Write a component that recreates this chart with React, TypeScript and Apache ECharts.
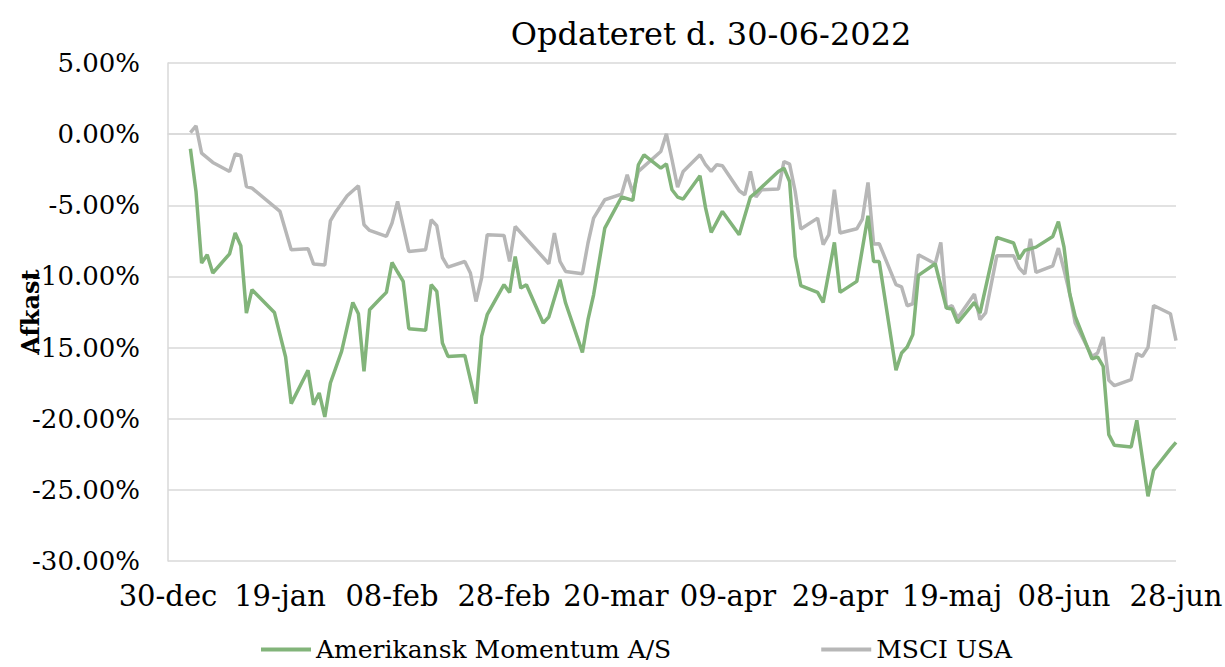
import React, { useEffect, useRef } from "react";
import * as echarts from "echarts";

const titleText = "Opdateret d. 30-06-2022";
const seriesNames = ["Amerikansk Momentum A/S", "MSCI USA"];
const xTickLabels = ["30-dec", "19-jan", "08-feb", "28-feb", "20-mar", "09-apr", "29-apr", "19-maj", "08-jun", "28-jun"];

// day offsets from 30-dec-2021 and returns in %
const momentumDays = [4, 5, 6, 7, 8, 11, 12, 13, 14, 15, 19, 21, 22, 25, 26, 27, 28, 29, 31, 33, 34, 35, 36, 38, 39, 40, 41, 42, 43, 46, 47, 48, 49, 50, 53, 55, 56, 57, 60, 61, 62, 63, 64, 67, 68, 70, 71, 74, 75, 76, 78, 81, 83, 84, 85, 88, 89, 90, 91, 92, 95, 96, 97, 99, 102, 104, 105, 109, 110, 111, 112, 113, 116, 117, 119, 120, 123, 125, 126, 127, 130, 131, 132, 133, 134, 137, 139, 140, 141, 144, 145, 148, 151, 152, 153, 155, 158, 159, 160, 161, 162, 165, 166, 167, 168, 169, 172, 173, 175, 176, 179, 180];
const momentumValues = [-1.03, -4.03, -9.06, -8.48, -9.76, -8.41, -6.95, -7.84, -12.57, -10.93, -12.53, -15.66, -18.94, -16.6, -19.01, -18.19, -19.87, -17.49, -15.27, -11.83, -12.62, -16.67, -12.34, -11.52, -11.12, -9.02, -9.69, -10.35, -13.67, -13.79, -10.58, -11.05, -14.68, -15.62, -15.55, -18.94, -14.21, -12.69, -10.58, -11.12, -8.6, -10.82, -10.58, -13.27, -12.85, -10.23, -11.87, -15.34, -13.04, -11.29, -6.6, -4.42, -4.66, -2.15, -1.45, -2.39, -2.09, -3.91, -4.42, -4.56, -2.93, -5.2, -6.91, -5.43, -7.07, -4.42, -4.1, -2.62, -2.39, -3.33, -8.6, -10.65, -11.12, -11.83, -7.61, -11.12, -10.35, -5.74, -8.95, -8.95, -16.6, -15.38, -14.96, -14.09, -9.93, -9.11, -12.22, -12.29, -13.27, -11.83, -12.57, -7.26, -7.65, -8.78, -8.17, -7.94, -7.19, -6.14, -7.94, -11.17, -12.81, -15.8, -15.66, -16.32, -21.12, -21.87, -21.98, -20.11, -25.45, -23.62, -22.12, -21.66];

const msciDays = [4, 5, 6, 8, 11, 12, 13, 14, 15, 20, 22, 25, 26, 28, 29, 30, 32, 34, 35, 36, 39, 40, 41, 43, 46, 47, 48, 49, 50, 53, 54, 55, 56, 57, 60, 61, 62, 68, 69, 70, 71, 74, 75, 76, 78, 81, 82, 83, 84, 88, 89, 90, 91, 92, 95, 96, 97, 98, 99, 102, 103, 104, 105, 106, 109, 110, 111, 112, 113, 116, 117, 118, 119, 120, 123, 124, 125, 126, 127, 130, 131, 132, 133, 134, 137, 138, 139, 140, 141, 144, 145, 146, 148, 151, 152, 153, 154, 155, 158, 159, 160, 161, 162, 165, 166, 167, 168, 169, 172, 173, 174, 175, 176, 179, 180];
const msciValues = [0.11, 0.58, -1.33, -1.99, -2.62, -1.4, -1.5, -3.68, -3.79, -5.43, -8.13, -8.05, -9.13, -9.2, -6.09, -5.43, -4.33, -3.63, -6.37, -6.77, -7.19, -6.25, -4.73, -8.24, -8.12, -6.02, -6.44, -8.67, -9.34, -8.95, -9.76, -11.76, -10.11, -7.07, -7.12, -8.95, -6.49, -9.11, -6.95, -8.95, -9.65, -9.81, -7.65, -5.9, -4.61, -4.21, -2.86, -4.14, -2.62, -1.22, 0.02, -1.8, -3.72, -2.62, -1.45, -2.15, -2.62, -2.15, -2.22, -3.98, -4.26, -2.62, -4.42, -3.91, -3.86, -1.92, -2.11, -4.03, -6.67, -5.9, -7.77, -7.07, -3.91, -6.95, -6.65, -5.97, -3.4, -7.72, -7.7, -10.58, -10.74, -12.06, -11.92, -8.48, -9.11, -7.61, -12.22, -12.06, -12.92, -11.24, -13.04, -12.57, -8.55, -8.55, -9.41, -9.83, -7.35, -9.72, -9.25, -8.01, -9.53, -11.17, -13.27, -15.62, -15.38, -14.26, -17.3, -17.68, -17.25, -15.43, -15.62, -14.99, -12.04, -12.62, -14.51];

const FONT = "DejaVu Serif";

export default function App() {
  const ref = useRef<HTMLDivElement>(null);
  useEffect(() => {
    if (!ref.current) return;
    const chart = echarts.init(ref.current, undefined, { renderer: "svg" });
    const momentumData = momentumDays.map((d, i) => [d, momentumValues[i]]);
    const msciData = msciDays.map((d, i) => [d, msciValues[i]]);
    chart.setOption({
      animation: false,
      backgroundColor: "#ffffff",
      title: {
        text: titleText,
        left: 706,
        top: 13,
        textAlign: "center",
        textStyle: { fontFamily: FONT, fontSize: 32, fontWeight: "normal", color: "#000" },
      },
      grid: { left: 168, right: 49, top: 63, bottom: 106, outerBoundsMode: "none", containLabel: false },
      legend: {
        left: 256,
        top: 632,
        icon: "rect",
        itemWidth: 50,
        itemHeight: 4,
        itemGap: 150,
        textStyle: { fontFamily: FONT, fontSize: 25, color: "#000" },
        data: seriesNames,
      },
      xAxis: {
        type: "value",
        min: 0,
        max: 180,
        interval: 20,
        axisLine: { show: true, lineStyle: { color: "#D9D9D9", width: 1.5 } },
        axisTick: { show: false },
        splitLine: { show: false },
        axisLabel: {
          margin: 20,
          fontFamily: FONT,
          fontSize: 29,
          color: "#000",
          showMinLabel: true,
          showMaxLabel: true,
          hideOverlap: false,
          formatter: (v: number) => xTickLabels[Math.round(v / 20)] ?? "",
        },
      },
      yAxis: {
        type: "value",
        min: -30,
        max: 5,
        interval: 5,
        name: "Afkast",
        nameLocation: "middle",
        nameGap: 126,
        nameRotate: 90,
        nameMoveOverlap: false,
        nameTextStyle: { fontFamily: FONT, fontSize: 24, fontWeight: "bold", color: "#000" },
        axisLine: { show: true, lineStyle: { color: "#D9D9D9", width: 1.5 } },
        axisTick: { show: false },
        splitLine: { show: true, lineStyle: { color: "#D9D9D9", width: 1.5 } },
        axisLabel: {
          margin: 28,
          fontFamily: FONT,
          fontSize: 26,
          color: "#000",
          formatter: (v: number) => v.toFixed(2) + "%",
        },
      },
      series: [
        {
          name: seriesNames[0],
          type: "line",
          data: momentumData,
          symbol: "none",
          lineStyle: { color: "#82B47A", width: 3.5 },
          itemStyle: { color: "#82B47A" },
          z: 3,
        },
        {
          name: seriesNames[1],
          type: "line",
          data: msciData,
          symbol: "none",
          lineStyle: { color: "#B7B7B7", width: 3.5 },
          itemStyle: { color: "#B7B7B7" },
          z: 2,
        },
      ],
    });
    return () => chart.dispose();
  }, []);
  return <div ref={ref} style={{ position: "fixed", left: 0, top: 0, width: 1225, height: 667 }} />;
}
